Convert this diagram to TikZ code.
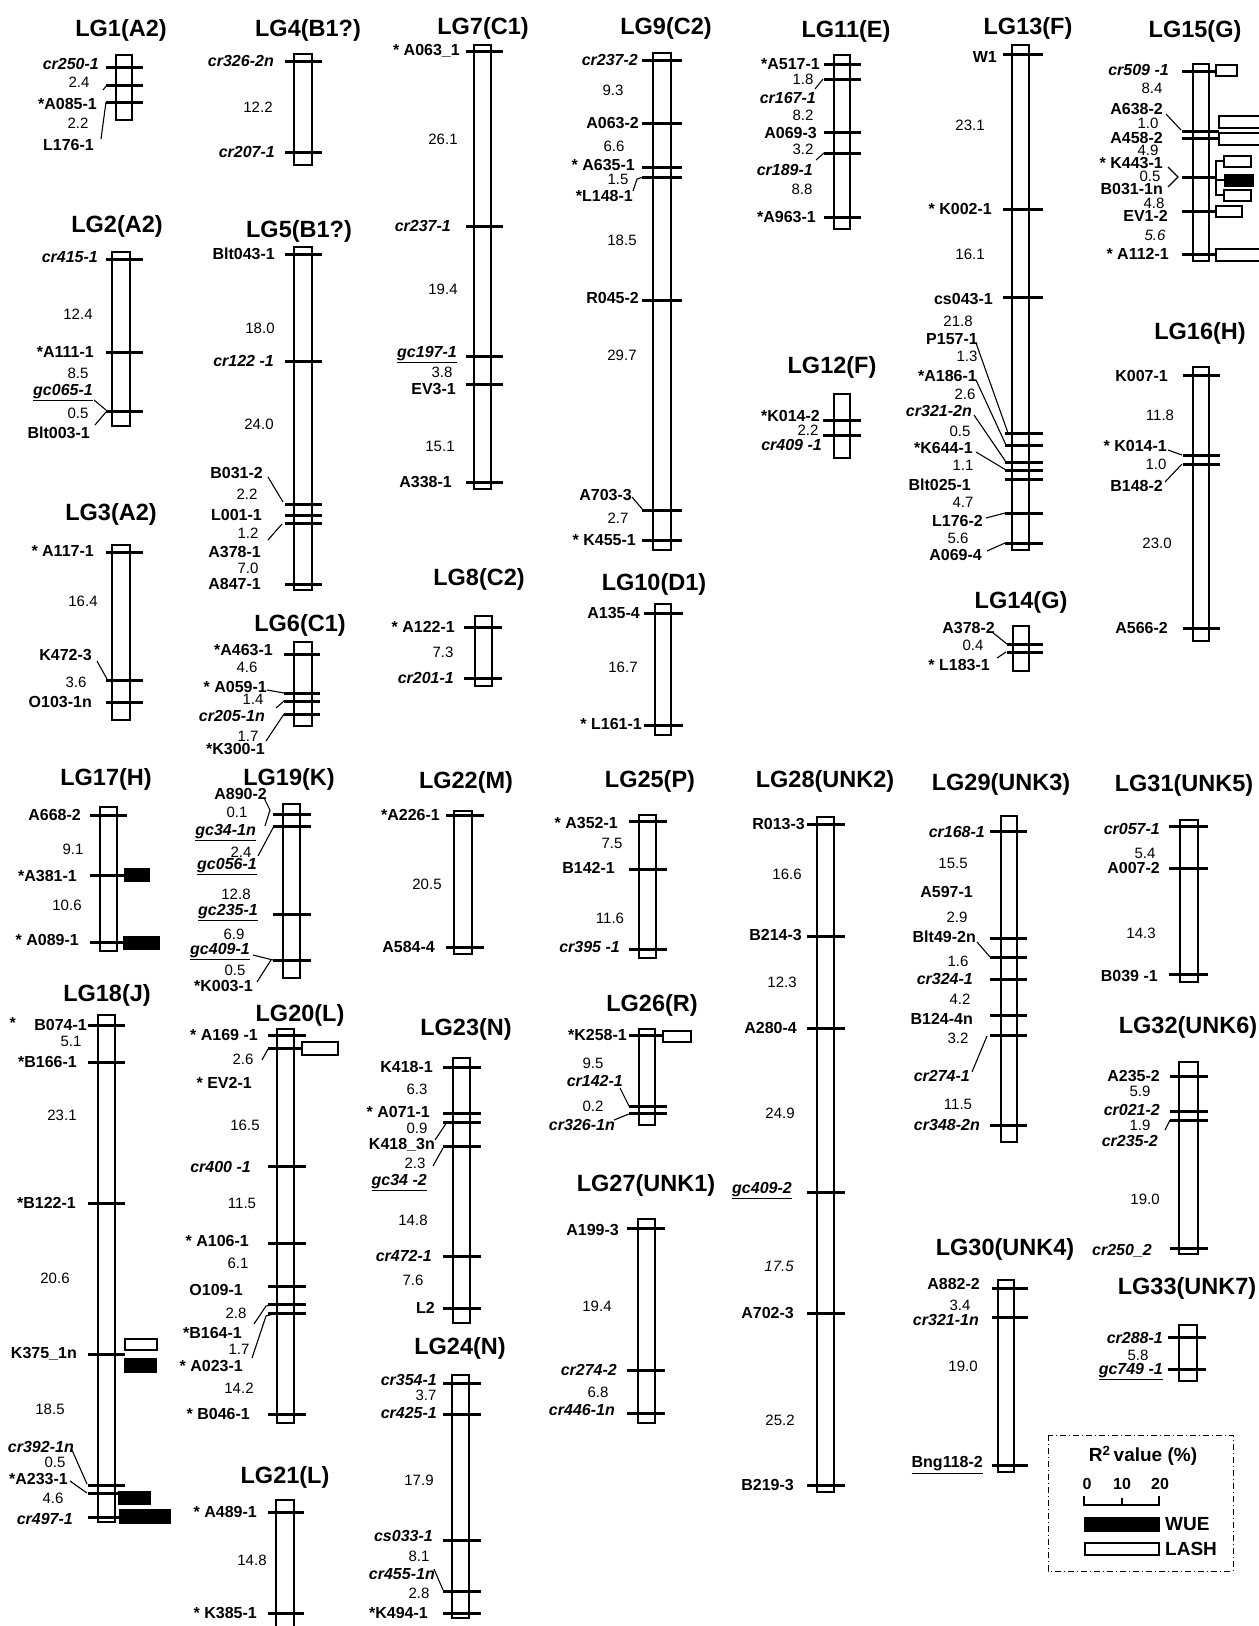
\documentclass[tikz,border=0pt]{standalone}
\usepackage{fontspec}
\setmainfont{Liberation Sans}
\newcommand{\lgmkf}{\fontsize{16}{17}\selectfont\bfseries}
\newcommand{\lgdsf}{\fontsize{15}{16}\selectfont}
\newcommand{\lgttf}{\fontsize{23.5}{25}\selectfont\bfseries}
\tikzset{
  chrbox/.style={draw=black, line width=1.5pt, fill=white},
  tk/.style={line width=3pt},
  cn/.style={line width=1.1pt},
  mk/.style={font=\lgmkf, inner sep=0pt, anchor=east},
  dst/.style={font=\lgdsf, inner sep=0pt},
  ttl/.style={font=\lgttf, inner sep=0pt},
  wue/.style={draw=black, fill=black, line width=1pt},
  lash/.style={draw=black, fill=white, line width=1.2pt},
  legtxt/.style={font=\fontsize{19}{20}\selectfont\bfseries, inner sep=0pt}
}
\newcommand{\lgR}[4]{\draw[chrbox] (#1,#2) rectangle (#3,#4);}
\newcommand{\lgK}[3]{\draw[tk] (#1,#3) -- (#2,#3);}
\newcommand{\lgM}[3]{\node[mk] at (#1,#2) {#3};}
\newcommand{\lgI}[3]{\node[mk] at (#1,#2) {\itshape #3};}
\newcommand{\lgU}[3]{\node[mk] at (#1,#2) {\underline{\itshape #3}};}
\newcommand{\lgD}[3]{\node[dst] at (#1,#2) {#3};}
\newcommand{\lgT}[3]{\node[ttl] at (#1,#2+3) {#3};}
\newcommand{\lgC}[4]{\draw[cn] (#1,#2) -- (#3,#4);}
\begin{document}
\begin{tikzpicture}[x=1pt,y=-1pt]
\useasboundingbox (0,0) rectangle (1259,1626);
\fill[white] (0,0) rectangle (1259,1626);

% ---------- LG1
\lgT{121}{27}{LG1(A2)}
\lgR{116}{55}{132}{120}
\foreach \yy in {67,85,102} {\lgK{106}{143}{\yy}}
\lgI{99}{64}{cr250-1}
\lgD{79}{82}{2.4}
\lgM{97}{104}{*A085-1}
\lgD{78}{123}{2.2}
\lgM{94}{145}{L176-1}
\lgC{103}{90}{107}{85}
\lgC{101}{139}{106}{102}

% ---------- LG4
\lgT{308}{27}{LG4(B1?)}
\lgR{294}{54}{312}{165}
\foreach \yy in {61,152} {\lgK{285}{322}{\yy}}
\lgI{274}{61}{cr326-2n}
\lgD{258}{107}{12.2}
\lgI{275}{152}{cr207-1}

% ---------- LG2
\lgT{117}{223}{LG2(A2)}
\lgR{112}{252}{130}{426}
\foreach \yy in {259,352,411} {\lgK{106}{143}{\yy}}
\lgI{98}{257}{cr415-1}
\lgD{78}{314}{12.4}
\lgM{94}{352}{*A111-1}
\lgD{78}{373}{8.5}
\lgU{93}{393}{gc065-1}
\lgD{78}{413}{0.5}
\lgM{90}{433}{Blt003-1}
\lgC{94}{400}{106}{410}
\lgC{95}{425}{106}{412}

% ---------- LG5
\lgT{299}{228}{LG5(B1?)}
\lgR{294}{247}{312}{590}
\foreach \yy in {254,361,504,515,523,584} {\lgK{285}{322}{\yy}}
\lgM{275}{254}{Blt043-1}
\lgD{260}{328}{18.0}
\lgI{274}{361}{cr122 -1}
\lgD{259}{424}{24.0}
\lgM{263}{473}{B031-2}
\lgD{247}{494}{2.2}
\lgM{262}{515}{L001-1}
\lgD{248}{533}{1.2}
\lgM{261}{552}{A378-1}
\lgD{248}{568}{7.0}
\lgM{261}{584}{A847-1}
\lgC{268}{477}{283}{502}
\lgC{268}{540}{282}{524}

% ---------- LG3
\lgT{111}{511}{LG3(A2)}
\lgR{112}{545}{130}{720}
\foreach \yy in {552,680,702} {\lgK{106}{143}{\yy}}
\lgM{94}{551}{* A117-1}
\lgD{83}{601}{16.4}
\lgM{92}{655}{K472-3}
\lgD{76}{682}{3.6}
\lgM{92}{702}{O103-1n}
\lgC{97}{661}{107}{679}

% ---------- LG6
\lgT{300}{622}{LG6(C1)}
\lgR{294}{642}{312}{726}
\foreach \yy in {654,693,701,714} {\lgK{284}{320}{\yy}}
\lgM{273}{650}{*A463-1}
\lgD{247}{667}{4.6}
\lgM{267}{687}{* A059-1}
\lgD{253}{699}{1.4}
\lgI{265}{716}{cr205-1n}
\lgD{248}{736}{1.7}
\lgM{265}{749}{*K300-1}
\lgC{267}{690}{284}{693}
\lgC{276}{708}{284}{701}
\lgC{266}{741}{284}{714}

% ---------- LG17
\lgT{106}{776}{LG17(H)}
\lgR{100}{807}{117}{951}
\foreach \yy in {815,875,942} {\lgK{90}{127}{\yy}}
\lgM{81}{815}{A668-2}
\lgD{73}{849}{9.1}
\lgM{77}{876}{*A381-1}
\lgD{67}{905}{10.6}
\lgM{79}{940}{* A089-1}
\draw[wue] (124,868) rectangle (149,881);
\draw[wue] (123,936) rectangle (159,949);

% ---------- LG18
\lgT{107}{992}{LG18(J)}
\lgR{98}{1015}{115}{1522}
\foreach \yy in {1025,1062,1203,1354,1485,1493,1517} {\lgK{88}{125}{\yy}}
\lgM{16}{1023}{*}
\lgM{87}{1025}{B074-1}
\lgD{71}{1041}{5.1}
\lgM{77}{1062}{*B166-1}
\lgD{62}{1115}{23.1}
\lgM{76}{1203}{*B122-1}
\lgD{55}{1278}{20.6}
\lgM{77}{1354}{K375\_1n}
\lgD{50}{1409}{18.5}
\lgI{74}{1447}{cr392-1n}
\lgD{55}{1462}{0.5}
\lgM{68}{1479}{*A233-1}
\lgD{53}{1498}{4.6}
\lgI{73}{1519}{cr497-1}
\lgC{72}{1450}{87}{1484}
\lgC{70}{1481}{87}{1493}
\draw[lash] (125,1339) rectangle (157,1350);
\draw[wue] (124,1358) rectangle (156,1372);
\draw[wue] (118,1491) rectangle (150,1504);
\draw[wue] (119,1509) rectangle (170,1523);

% ---------- LG19
\lgT{289}{776}{LG19(K)}
\lgR{283}{804}{300}{978}
\foreach \yy in {814,826,914,960} {\lgK{273}{311}{\yy}}
\lgM{267}{794}{A890-2}
\lgD{237}{812}{0.1}
\lgU{256}{833}{gc34-1n}
\lgD{241}{852}{2.4}
\lgU{257}{867}{gc056-1}
\lgD{236}{894}{12.8}
\lgU{258}{913}{gc235-1}
\lgD{234}{934}{6.9}
\lgU{250}{952}{gc409-1}
\lgD{235}{970}{0.5}
\lgM{253}{986}{*K003-1}
\draw[cn] (264,798) -- (270,810) -- (265,826);
\lgC{258}{856}{274}{826}
\lgC{253}{955}{273}{960}
\lgC{257}{982}{271}{960}

% ---------- LG20
\lgT{300}{1012}{LG20(L)}
\lgR{277}{1029}{294}{1423}
\foreach \yy in {1035,1048,1166,1243,1286,1304,1313,1414} {\lgK{268}{306}{\yy}}
\draw[lash] (302,1042) rectangle (338,1055);
\lgM{258}{1035}{* A169 -1}
\lgD{243}{1059}{2.6}
\lgM{252}{1083}{* EV2-1}
\lgD{245}{1125}{16.5}
\lgI{251}{1167}{cr400 -1}
\lgD{242}{1203}{11.5}
\lgM{249}{1241}{* A106-1}
\lgD{238}{1263}{6.1}
\lgM{243}{1290}{O109-1}
\lgD{236}{1313}{2.8}
\lgM{242}{1333}{*B164-1}
\lgD{239}{1349}{1.7}
\lgM{243}{1366}{* A023-1}
\lgD{239}{1388}{14.2}
\lgM{250}{1414}{* B046-1}
\lgC{262}{1060}{268}{1049}
\draw[cn] (254,1324) -- (266,1306) -- (277,1304);
\draw[cn] (252,1358) -- (266,1316) -- (277,1313);

% ---------- LG21
\lgT{285}{1474}{LG21(L)}
\draw[chrbox] (276,1632) -- (276,1500) -- (294,1500) -- (294,1632);
\foreach \yy in {1512,1613} {\lgK{268}{304}{\yy}}
\lgM{257}{1512}{* A489-1}
\lgD{252}{1560}{14.8}
\lgM{257}{1613}{* K385-1}

% ---------- LG7
\lgT{483}{25}{LG7(C1)}
\lgR{474}{45}{491}{489}
\foreach \yy in {51,226,356,384,482} {\lgK{466}{503}{\yy}}
\lgM{460}{51}{* A063\_1}
\lgD{443}{139}{26.1}
\lgI{451}{226}{cr237-1}
\lgD{443}{289}{19.4}
\lgU{457}{355}{gc197-1}
\lgD{442}{372}{3.8}
\lgM{456}{389}{EV3-1}
\lgD{440}{446}{15.1}
\lgM{452}{482}{A338-1}

% ---------- LG8
\lgT{479}{576}{LG8(C2)}
\lgR{475}{616}{492}{686}
\foreach \yy in {627,678} {\lgK{464}{502}{\yy}}
\lgM{455}{627}{* A122-1}
\lgD{443}{652}{7.3}
\lgI{454}{678}{cr201-1}

% ---------- LG9
\lgT{666}{25}{LG9(C2)}
\lgR{653}{53}{671}{550}
\foreach \yy in {60,123,167,177,300,510,540} {\lgK{642}{682}{\yy}}
\lgI{638}{60}{cr237-2}
\lgD{613}{90}{9.3}
\lgM{639}{123}{A063-2}
\lgD{614}{146}{6.6}
\lgM{635}{165}{* A635-1}
\lgD{618}{179}{1.5}
\lgM{633}{196}{*L148-1}
\lgD{622}{240}{18.5}
\lgM{639}{298}{R045-2}
\lgD{622}{355}{29.7}
\lgM{632}{495}{A703-3}
\lgD{618}{518}{2.7}
\lgM{636}{540}{* K455-1}
\draw[cn] (633,191) -- (637,179) -- (643,177);
\lgC{632}{497}{643}{510}

% ---------- LG10
\lgT{654}{581}{LG10(D1)}
\lgR{655}{604}{671}{735}
\foreach \yy in {613,725} {\lgK{644}{683}{\yy}}
\lgM{640}{613}{A135-4}
\lgD{623}{667}{16.7}
\lgM{642}{724}{* L161-1}

% ---------- LG22
\lgT{466}{779}{LG22(M)}
\lgR{454}{811}{472}{954}
\foreach \yy in {815,947} {\lgK{446}{484}{\yy}}
\lgM{440}{815}{*A226-1}
\lgD{427}{884}{20.5}
\lgM{435}{947}{A584-4}

% ---------- LG25
\lgT{650}{778}{LG25(P)}
\lgR{639}{815}{656}{958}
\foreach \yy in {821,869,949} {\lgK{629}{667}{\yy}}
\lgM{618}{823}{* A352-1}
\lgD{612}{843}{7.5}
\lgM{615}{868}{B142-1}
\lgD{610}{918}{11.6}
\lgI{620}{947}{cr395 -1}

% ---------- LG23
\lgT{466}{1026}{LG23(N)}
\lgR{453}{1058}{470}{1323}
\foreach \yy in {1067,1113,1122,1146,1256,1308} {\lgK{443}{481}{\yy}}
\lgM{433}{1067}{K418-1}
\lgD{417}{1089}{6.3}
\lgM{430}{1112}{* A071-1}
\lgD{417}{1128}{0.9}
\lgM{435}{1145}{K418\_3n}
\lgD{415}{1163}{2.3}
\lgU{427}{1183}{gc34 -2}
\lgD{413}{1220}{14.8}
\lgI{432}{1256}{cr472-1}
\lgD{413}{1280}{7.6}
\lgM{435}{1308}{L2}
\lgC{435}{1140}{447}{1122}
\lgC{433}{1166}{443}{1148}

% ---------- LG24
\lgT{460}{1345}{LG24(N)}
\lgR{452}{1375}{469}{1618}
\foreach \yy in {1383,1414,1540,1591,1613} {\lgK{443}{481}{\yy}}
\lgI{437}{1380}{cr354-1}
\lgD{426}{1395}{3.7}
\lgI{437}{1413}{cr425-1}
\lgD{419}{1480}{17.9}
\lgI{433}{1536}{cs033-1}
\lgD{419}{1556}{8.1}
\lgI{435}{1574}{cr455-1n}
\lgD{419}{1593}{2.8}
\lgM{428}{1613}{*K494-1}
\lgC{434}{1569}{443}{1590}

% ---------- LG26
\lgT{652}{1002}{LG26(R)}
\lgR{639}{1029}{655}{1125}
\lgK{629}{663}{1035}
\foreach \yy in {1106,1113} {\lgK{629}{667}{\yy}}
\draw[lash] (663,1031) rectangle (691,1042);
\lgM{627}{1035}{*K258-1}
\lgD{593}{1063}{9.5}
\lgI{623}{1081}{cr142-1}
\lgD{593}{1106}{0.2}
\lgI{615}{1125}{cr326-1n}
\lgC{620}{1088}{629}{1106}
\lgC{614}{1120}{629}{1114}

% ---------- LG27
\lgT{646}{1182}{LG27(UNK1)}
\lgR{638}{1219}{655}{1423}
\foreach \yy in {1228,1370,1413} {\lgK{627}{665}{\yy}}
\lgM{619}{1230}{A199-3}
\lgD{597}{1306}{19.4}
\lgI{617}{1370}{cr274-2}
\lgD{598}{1392}{6.8}
\lgI{615}{1410}{cr446-1n}

% ---------- LG28
\lgT{825}{778}{LG28(UNK2)}
\lgR{817}{817}{834}{1492}
\foreach \yy in {824,936,1028,1192,1313,1485} {\lgK{807}{845}{\yy}}
\lgM{805}{824}{R013-3}
\lgD{787}{874}{16.6}
\lgM{802}{935}{B214-3}
\lgD{782}{982}{12.3}
\lgM{797}{1028}{A280-4}
\lgD{780}{1113}{24.9}
\lgU{792}{1191}{gc409-2}
\lgD{779}{1266}{\itshape 17.5}
\lgM{794}{1313}{A702-3}
\lgD{780}{1420}{25.2}
\lgM{794}{1485}{B219-3}

% ---------- LG11
\lgT{846}{28}{LG11(E)}
\lgR{834}{55}{850}{229}
\foreach \yy in {64,79,132,153,217} {\lgK{824}{861}{\yy}}
\lgM{820}{64}{*A517-1}
\lgD{803}{79}{1.8}
\lgI{816}{98}{cr167-1}
\lgD{803}{115}{8.2}
\lgM{817}{133}{A069-3}
\lgD{803}{149}{3.2}
\lgI{813}{170}{cr189-1}
\lgD{802}{189}{8.8}
\lgM{816}{217}{*A963-1}
\lgC{815}{89}{823}{79}
\lgC{816}{160}{824}{153}

% ---------- LG12
\lgT{832}{364}{LG12(F)}
\lgR{834}{394}{850}{458}
\foreach \yy in {420,435} {\lgK{823}{861}{\yy}}
\lgM{820}{416}{*K014-2}
\lgD{808}{430}{2.2}
\lgI{822}{445}{cr409 -1}

% ---------- LG13
\lgT{1028}{25}{LG13(F)}
\lgR{1012}{45}{1029}{550}
\foreach \yy in {54,209,297} {\lgK{1003}{1043}{\yy}}
\foreach \yy in {433,445,462,470,479,513,543} {\lgK{1005}{1043}{\yy}}
\lgM{997}{57}{W1}
\lgD{970}{125}{23.1}
\lgM{992}{209}{* K002-1}
\lgD{970}{254}{16.1}
\lgM{993}{299}{cs043-1}
\lgD{958}{321}{21.8}
\lgM{978}{339}{P157-1}
\lgD{967}{356}{1.3}
\lgM{977}{376}{*A186-1}
\lgD{965}{394}{2.6}
\lgI{972}{411}{cr321-2n}
\lgD{960}{431}{0.5}
\lgM{973}{448}{*K644-1}
\lgD{963}{465}{1.1}
\lgM{971}{485}{Blt025-1}
\lgD{963}{502}{4.7}
\lgM{983}{521}{L176-2}
\lgD{958}{538}{5.6}
\lgM{982}{555}{A069-4}
\lgC{976}{343}{1008}{433}
\lgC{976}{380}{1006}{445}
\lgC{974}{415}{1006}{462}
\lgC{976}{452}{1006}{470}
\lgC{986}{518}{1005}{513}
\lgC{987}{551}{1005}{543}

% ---------- LG15
\lgT{1195}{28}{LG15(G)}
\lgR{1193}{64}{1209}{261}
\foreach \yy in {71,177,211,254} {\lgK{1182}{1216}{\yy}}
\foreach \yy in {131,138} {\lgK{1182}{1219}{\yy}}
\lgI{1169}{70}{cr509 -1}
\lgD{1152}{88}{8.4}
\lgM{1163}{109}{A638-2}
\lgD{1148}{123}{1.0}
\lgM{1163}{138}{A458-2}
\lgD{1148}{150}{4.9}
\lgM{1163}{163}{* K443-1}
\lgD{1150}{176}{0.5}
\lgM{1163}{189}{B031-1n}
\lgD{1154}{203}{4.8}
\lgM{1168}{216}{EV1-2}
\lgD{1155}{235}{\itshape 5.6}
\lgM{1169}{254}{* A112-1}
\lgC{1166}{114}{1181}{130}
\draw[cn] (1168,167) -- (1178,177) -- (1168,187);
\draw[lash] (1216,65) rectangle (1237,76);
\draw[lash] (1219,116) rectangle (1263,128);
\draw[lash] (1219,133) rectangle (1263,145);
\draw[cn] (1216,160) -- (1216,196);
\draw[cn] (1216,161) -- (1224,161) (1216,180) -- (1224,180) (1216,195) -- (1224,195);
\draw[lash] (1224,156) rectangle (1251,167);
\draw[wue] (1224,174) rectangle (1253,186);
\draw[lash] (1224,190) rectangle (1251,201);
\draw[lash] (1216,206) rectangle (1242,217);
\draw[lash] (1216,249) rectangle (1263,261);

% ---------- LG16
\lgT{1200}{330}{LG16(H)}
\lgR{1193}{367}{1209}{641}
\foreach \yy in {375,455,464,628} {\lgK{1183}{1220}{\yy}}
\lgM{1168}{376}{K007-1}
\lgD{1160}{415}{11.8}
\lgM{1167}{446}{* K014-1}
\lgD{1156}{464}{1.0}
\lgM{1163}{486}{B148-2}
\lgD{1157}{543}{23.0}
\lgM{1168}{628}{A566-2}
\lgC{1168}{450}{1182}{455}
\lgC{1165}{482}{1182}{464}

% ---------- LG14
\lgT{1021}{599}{LG14(G)}
\lgR{1013}{626}{1029}{671}
\foreach \yy in {644,652} {\lgK{1007}{1043}{\yy}}
\lgM{995}{628}{A378-2}
\lgD{973}{645}{0.4}
\lgM{990}{665}{* L183-1}
\lgC{992}{632}{1007}{644}
\lgC{997}{658}{1006}{652}

% ---------- LG29
\lgT{1001}{781}{LG29(UNK3)}
\lgR{1001}{816}{1017}{1142}
\foreach \yy in {831,938,957,979,1015,1035,1125} {\lgK{990}{1027}{\yy}}
\lgI{985}{832}{cr168-1}
\lgD{953}{863}{15.5}
\lgM{973}{892}{A597-1}
\lgD{957}{917}{2.9}
\lgM{976}{937}{Blt49-2n}
\lgD{958}{961}{1.6}
\lgI{973}{979}{cr324-1}
\lgD{960}{999}{4.2}
\lgM{973}{1019}{B124-4n}
\lgD{958}{1038}{3.2}
\lgI{970}{1076}{cr274-1}
\lgD{958}{1104}{11.5}
\lgI{980}{1125}{cr348-2n}
\lgC{977}{942}{990}{957}
\lgC{972}{1072}{987}{1036}

% ---------- LG31
\lgT{1184}{782}{LG31(UNK5)}
\lgR{1180}{820}{1198}{982}
\foreach \yy in {826,868,974} {\lgK{1169}{1208}{\yy}}
\lgI{1160}{829}{cr057-1}
\lgD{1145}{853}{5.4}
\lgM{1160}{868}{A007-2}
\lgD{1141}{933}{14.3}
\lgM{1158}{976}{B039 -1}

% ---------- LG32
\lgT{1188}{1024}{LG32(UNK6)}
\lgR{1179}{1062}{1198}{1254}
\foreach \yy in {1076,1111,1120,1248} {\lgK{1170}{1208}{\yy}}
\lgM{1160}{1076}{A235-2}
\lgD{1140}{1091}{5.9}
\lgI{1160}{1110}{cr021-2}
\lgD{1140}{1125}{1.9}
\lgI{1158}{1141}{cr235-2}
\lgD{1145}{1199}{19.0}
\lgI{1152}{1251}{cr250\_2}
\lgC{1165}{1130}{1170}{1120}

% ---------- LG30
\lgT{1005}{1246}{LG30(UNK4)}
\lgR{998}{1280}{1014}{1472}
\foreach \yy in {1288,1317,1465} {\lgK{992}{1028}{\yy}}
\lgM{980}{1284}{A882-2}
\lgD{960}{1305}{3.4}
\lgI{979}{1320}{cr321-1n}
\lgD{963}{1366}{19.0}
\lgM{983}{1465}{\underline{Bng118-2}}

% ---------- LG33
\lgT{1187}{1285}{LG33(UNK7)}
\lgR{1179}{1325}{1197}{1381}
\foreach \yy in {1337,1369} {\lgK{1168}{1206}{\yy}}
\lgI{1163}{1338}{cr288-1}
\lgD{1138}{1355}{5.8}
\lgU{1163}{1372}{gc749 -1}

% ---------- Legend
\draw[line width=0.8pt, dash pattern=on 6pt off 3pt on 1pt off 3pt] (1048,1435) rectangle (1233,1571);
\node[legtxt] at (1143,1456) {R$^{\mathbf{2}}$\,value (\%)};
\node[font=\fontsize{16}{17}\selectfont\bfseries, inner sep=0pt] at (1087,1484) {0};
\node[font=\fontsize{16}{17}\selectfont\bfseries, inner sep=0pt] at (1122,1484) {10};
\node[font=\fontsize{16}{17}\selectfont\bfseries, inner sep=0pt] at (1160,1484) {20};
\draw[line width=1.5pt] (1084,1496) -- (1084,1505) -- (1159,1505) -- (1159,1496);
\draw[line width=1.5pt] (1122,1498) -- (1122,1505);
\draw[wue] (1084,1517) rectangle (1159,1531);
\node[legtxt, anchor=west] at (1165,1524) {WUE};
\draw[lash] (1085,1543) rectangle (1159,1555);
\node[legtxt, anchor=west] at (1165,1549) {LASH};
\end{tikzpicture}
\end{document}
